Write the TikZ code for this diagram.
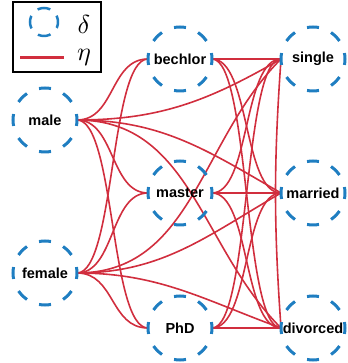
\documentclass[tikz,border=0pt]{standalone}
\usepackage{amsmath}
\usepackage{fontspec}
\usepackage{tikz}
\usetikzlibrary{backgrounds}
\newfontfamily\lblfont{Liberation Sans}
\definecolor{vblue}{HTML}{1F7EC1}
\definecolor{ered}{HTML}{D12E3E}

\begin{document}
\begin{tikzpicture}[x=1pt,y=1pt,
  vtx/.style={circle,draw=vblue,line width=3pt,minimum size=64pt,inner sep=0pt,outer sep=0pt,
    dash pattern=on 12pt off 13.13pt,dash phase=6pt,font=\lblfont\bfseries\fontsize{14.5}{16}\selectfont},
  keyvtx/.style={circle,draw=vblue,line width=2.5pt,minimum size=28pt,inner sep=0pt,outer sep=0pt,
    dash pattern=on 13pt off 9pt,dash phase=6.5pt},
  hedge/.style={ered,line width=1.6pt}]

\useasboundingbox (0,0) rectangle (347,363);

% vertices
\node[vtx] (male) at (45,243) {male};
\node[vtx] (female) at (45,90) {female};
\node[vtx] (bechlor) at (180,304) {bechlor};
\node[vtx] (master) at (180,170) {master};
\node[vtx] (phd) at (180,35) {PhD};
\node[vtx] (single) at (313,304) {single};
\node[vtx] (married) at (313,170) {married};
\node[vtx] (divorced) at (313,35) {divorced};

\begin{scope}[on background layer]
\foreach \g in {male,female}
{
\foreach \e in {bechlor,master,phd}
{
\draw[hedge] (\g.east) to[out=0,in=180,distance=38pt] (\e.west);
}
}

\foreach \e in {bechlor,master,phd}
{
\foreach \m in {single,married,divorced}
{
\draw[hedge] (\e.east) to[out=0,in=180,distance=38pt] (\m.west);
}
}

% long ones
\foreach \g/\m/\a in {male/single/210,male/married/150,male/divorced/135,female/single/225,female/married/210,female/divorced/160}
{
\draw[hedge] (\g.east) to[out=0,in=\a] (\m.west);
}

\draw[hedge] (single.west) to[bend right=4] (divorced.west);
\end{scope}

% legend
\draw[black,line width=1.2pt] (13,291) rectangle (101,361);
\node[keyvtx] (keyv) at (44,341) {};
\node[scale=2.6] (keydelta) at (84,339) {$\delta$};
\coordinate (keya) at (20,305);
\coordinate (keyb) at (64,305);
\draw[hedge,line width=3pt] (keya) -- (keyb);
\node[scale=2.6] (keyeta) at (84,306) {$\eta$};
\end{tikzpicture}
\end{document}
